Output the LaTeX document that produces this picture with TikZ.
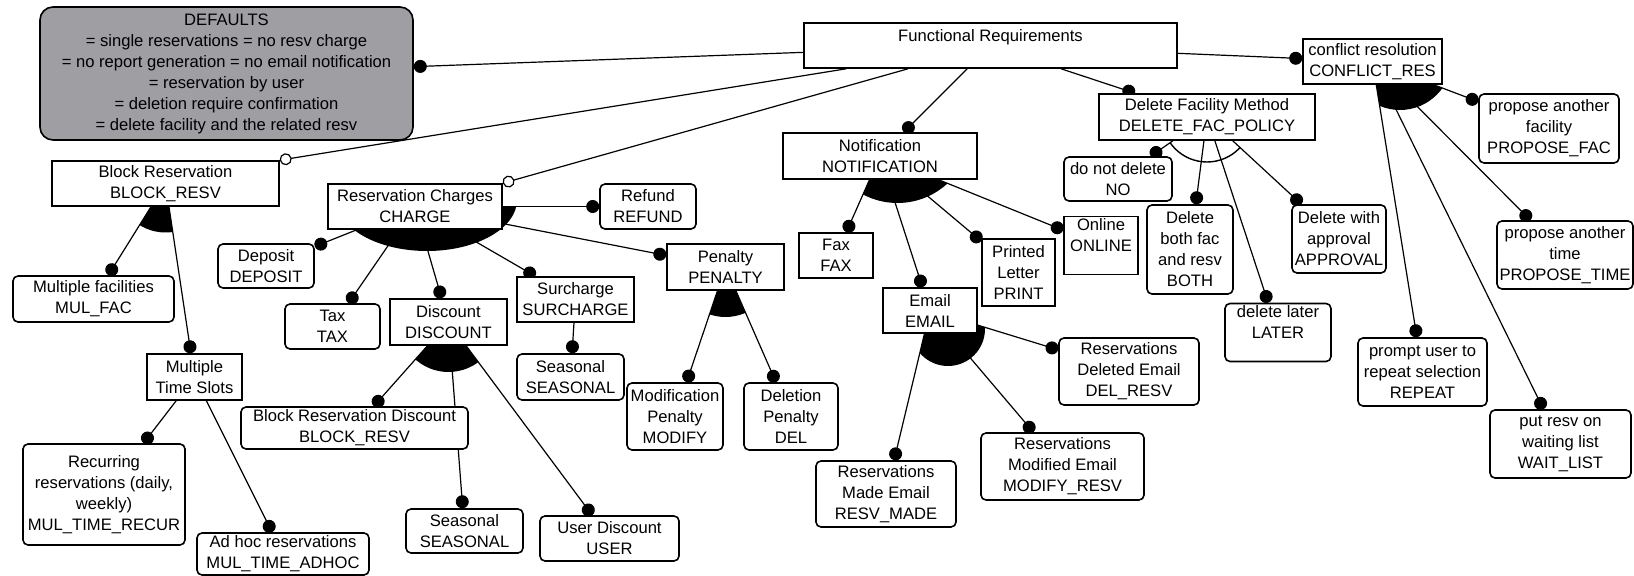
\documentclass[tikz,border=0pt]{standalone}
\usepackage{fontspec}
\setmainfont{Liberation Sans}
\usetikzlibrary{arrows.meta,calc}
\pgfdeclarelayer{back}
\pgfsetlayers{back,main}
\definecolor{defgray}{RGB}{158,158,163}

\tikzset{
  feat/.style={draw, line width=0.8pt, fill=white, inner sep=1pt, align=center,
               font=\fontsize{8.3}{10.5}\selectfont},
  rfeat/.style={feat, rounded corners=2.5pt},
  wh/.style 2 args={minimum width=#1*0.5pt, minimum height=#2*0.5pt},
  conn/.style={line width=0.6pt},
  must/.style={conn, -{Circle[length=6.5pt]}},
  opt/.style={conn, -{Circle[open, length=6pt, fill=white, line width=0.6pt]}},
}

\begin{document}
\begin{tikzpicture}[x=0.5pt, y=-0.5pt]
\useasboundingbox (0,0) rectangle (1634,576);

% ---------- features ----------
\node[feat, rounded corners=6.5pt, fill=defgray, wh={373}{133}] (defaults) at (226.5,73.5)
  {DEFAULTS\\= single reservations = no resv charge\\= no report generation = no email notification\\= reservation by user\\= deletion require confirmation\\= delete facility and the related resv};
\node[feat, wh={373}{45}] (fr) at (990.5,45.5) {Functional Requirements\\\mbox{}};
\node[feat, wh={139}{45}] (conflict) at (1372.5,61.5) {conflict resolution\\CONFLICT\_RES};

\node[feat, wh={227}{45}] (block) at (165.5,183.5) {Block Reservation\\BLOCK\_RESV};
\node[rfeat, wh={161}{46}] (mulfac) at (93.5,299) {Multiple facilities\\MUL\_FAC};
\node[feat, wh={95}{46}] (mts) at (194.5,377) {Multiple\\Time Slots};
\node[rfeat, wh={162}{101}] (recur) at (104,494.5) {Recurring\\reservations (daily,\\weekly)\\MUL\_TIME\_RECUR};
\node[rfeat, wh={172}{42}] (adhoc) at (283,554) {Ad hoc reservations\\MUL\_TIME\_ADHOC};

\node[feat, wh={174}{45}] (charge) at (415,206.5) {Reservation Charges\\CHARGE};
\node[rfeat, wh={96}{45}] (refund) at (648,206.5) {Refund\\REFUND};
\node[rfeat, wh={96}{44}] (deposit) at (266,266) {Deposit\\DEPOSIT};
\node[rfeat, wh={95}{45}] (tax) at (332.5,326.5) {Tax\\TAX};
\node[feat, wh={117}{46}] (discount) at (448.5,322) {Discount\\DISCOUNT};
\node[feat, wh={117}{45}] (surcharge) at (575.5,299.5) {Surcharge\\SURCHARGE};
\node[rfeat, wh={107}{46}] (seasonalA) at (570.5,377) {Seasonal\\SEASONAL};
\node[feat, wh={117}{46}] (penalty) at (725.5,267) {Penalty\\PENALTY};
\node[rfeat, wh={96}{67}] (modify) at (675,416.5) {Modification\\Penalty\\MODIFY};
\node[rfeat, wh={94}{67}] (del) at (791,416.5) {Deletion\\Penalty\\DEL};
\node[rfeat, wh={227}{42}] (brd) at (354.5,428) {Block Reservation Discount\\BLOCK\_RESV};
\node[rfeat, wh={117}{44}] (seasonalB) at (464.5,531) {Seasonal\\SEASONAL};
\node[rfeat, wh={139}{45}] (user) at (609.5,538.5) {User Discount\\USER};

\node[feat, wh={194}{46}] (notif) at (880,156) {Notification\\NOTIFICATION};
\node[feat, wh={74}{45}] (fax) at (836,255.5) {Fax\\FAX};
\node[feat, wh={94}{45}] (email) at (930,310.5) {Email\\EMAIL};
\node[feat, wh={73}{67}] (print) at (1018.5,272.5) {Printed\\Letter\\PRINT};
\node[feat, wh={74}{57}] (online) at (1101,245.5) {Online\\ONLINE\\\mbox{}};
\node[rfeat, wh={140}{66}] (resvmade) at (886,494) {Reservations\\Made Email\\RESV\_MADE};
\node[rfeat, wh={163}{67}] (modresv) at (1062.5,466.5) {Reservations\\Modified Email\\MODIFY\_RESV};
\node[rfeat, wh={140}{67}] (delresv) at (1129,371.5) {Reservations\\Deleted Email\\DEL\_RESV};

\node[feat, wh={216}{46}] (delfac) at (1207,117) {Delete Facility Method\\DELETE\_FAC\_POLICY};
\node[rfeat, wh={108}{44}] (no) at (1118,179) {do not delete\\NO};
\node[rfeat, wh={86}{89}] (both) at (1190,249.5) {Delete\\both fac\\and resv\\BOTH};
\node[rfeat, wh={94}{68}] (approval) at (1339,239) {Delete with\\approval\\APPROVAL};
\node[rfeat, wh={106}{57}] (later) at (1278,332.5) {delete later\\LATER\\\mbox{}};

\node[rfeat, wh={140}{69}] (propfac) at (1549,128.5) {propose another\\facility\\PROPOSE\_FAC};
\node[rfeat, wh={136}{68}] (proptime) at (1565,255) {propose another\\time\\PROPOSE\_TIME};
\node[rfeat, wh={129}{68}] (repeat) at (1422.5,372) {prompt user to\\repeat selection\\REPEAT};
\node[rfeat, wh={141}{68}] (waitlist) at (1560.5,444) {put resv on\\waiting list\\WAIT\_LIST};

% ---------- group fans, arcs and connectors ----------
\begin{pgfonlayer}{back}
  \fill[white] (0,0) rectangle (1634,576);

  % or-groups: filled sectors between the outer connectors
  \begin{scope}
    \clip (block.center) -- ($(block.center)!12!(mulfac.center)$) -- ($(block.center)!12!(mts.center)$) -- cycle;
    \fill (165.5,183.5) circle [radius=49];
  \end{scope}
  \begin{scope}
    \clip (charge.center) -- ($(charge.center)!12!(deposit.center)$) -- ($(charge.center)!12!(refund.center)$) -- cycle;
    \fill (427,200) ellipse [x radius=90, y radius=51];
  \end{scope}
  \begin{scope}
    \clip (discount.center) -- ($(discount.center)!12!(brd.center)$) -- ($(discount.center)!12!(user.center)$) -- cycle;
    \fill (448.5,322) circle [radius=50];
  \end{scope}
  \begin{scope}
    \clip (penalty.center) -- ($(penalty.center)!12!(modify.center)$) -- ($(penalty.center)!12!(del.center)$) -- cycle;
    \fill (725.5,267) circle [radius=50];
  \end{scope}
  \begin{scope}
    \clip (notif.center) -- ($(notif.center)!12!(fax.center)$) -- ($(notif.center)!12!(online.center)$) -- cycle;
    \fill (897.5,129.3) circle [radius=73.7];
  \end{scope}
  \begin{scope}
    \clip (email.center) -- ($(email.center)!12!(resvmade.center)$) -- ($(email.center)!12!(delresv.center)$) -- cycle;
    \fill (948,329) circle [radius=37];
  \end{scope}
  \begin{scope}
    \clip (conflict.center) -- ($(conflict.center)!12!(repeat.center)$) -- ($(conflict.center)!12!(propfac.center)$) -- cycle;
    \fill (1400,58) circle [radius=52];
  \end{scope}
  % alternative group: open arc
  \begin{scope}
    \clip (delfac.center) -- ($(delfac.center)!12!(no.center)$) -- ($(delfac.center)!12!(approval.center)$) -- cycle;
    \draw[line width=0.7pt] (delfac.center) circle [radius=45];
  \end{scope}

  % root
  \draw[must] (fr) -- (defaults);
  \draw[opt]  (fr) -- (block.north east);
  \draw[opt]  (fr) -- (charge.north east);
  \draw[must] (fr) -- (notif);
  \draw[must] (fr) -- (delfac);
  \draw[must] (fr) -- (conflict);

  % block reservation
  \draw[must] (block) -- (mulfac);
  \draw[must] (block) -- (mts);
  \draw[must] (mts) -- (recur);
  \draw[must] (mts) -- (adhoc);

  % charges
  \foreach \c in {deposit,tax,discount,surcharge,penalty,refund}
    \draw[must] (charge) -- (\c);
  \foreach \c in {brd,seasonalB,user}
    \draw[must] (discount) -- (\c);
  \draw[must] (surcharge) -- (seasonalA);
  \draw[must] (penalty) -- (modify);
  \draw[must] (penalty) -- (del);

  % notification
  \foreach \c in {fax,email,print,online}
    \draw[must] (notif) -- (\c);
  \foreach \c in {resvmade,modresv,delresv}
    \draw[must] (email) -- (\c);

  % delete facility
  \foreach \c in {no,both,later,approval}
    \draw[must] (delfac) -- (\c);

  % conflict resolution
  \foreach \c in {repeat,waitlist,proptime,propfac}
    \draw[must] (conflict) -- (\c);
\end{pgfonlayer}
\end{tikzpicture}
\end{document}
